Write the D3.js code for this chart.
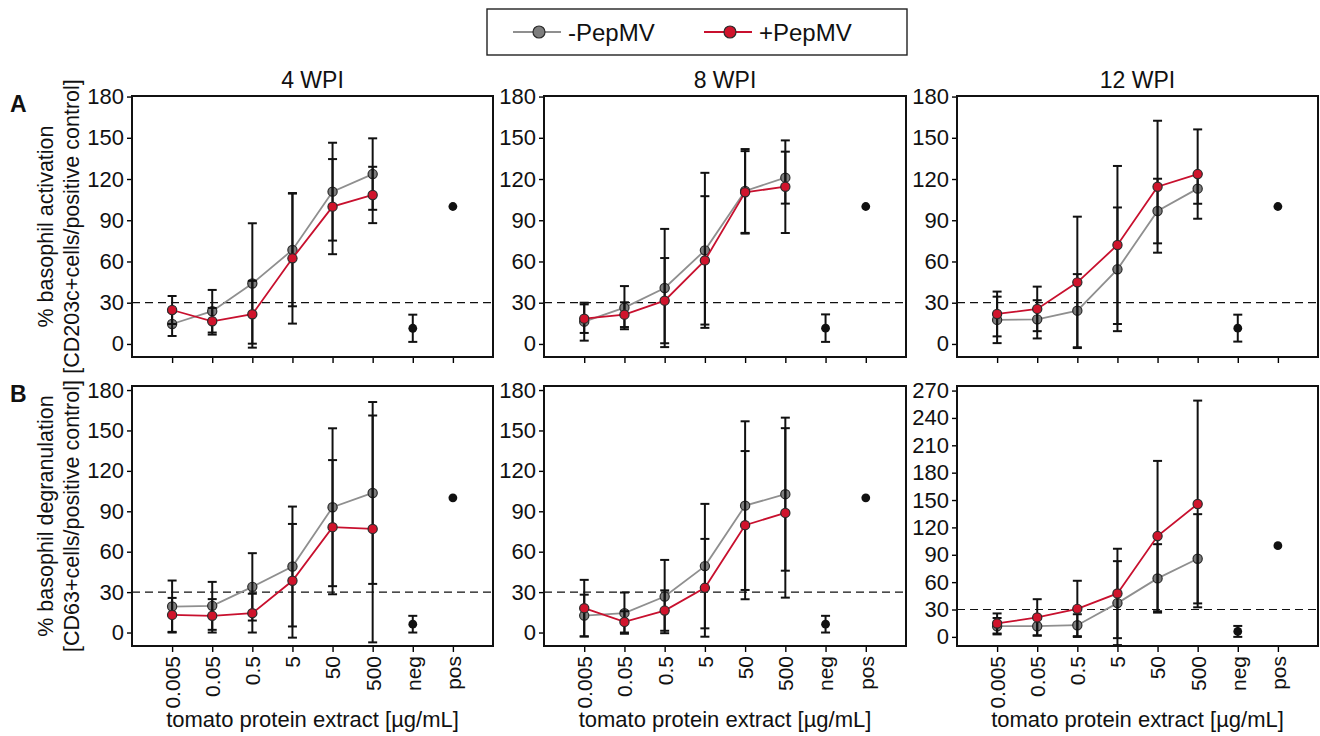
<!DOCTYPE html>
<html>
<head>
<meta charset="utf-8">
<script src="https://cdn.jsdelivr.net/npm/d3@7"></script>
<style>
  body { margin: 0; background: #fff; }
  svg { font-family: "Liberation Sans", Arial, sans-serif; }
</style>
</head>
<body>
<svg width="1320" height="736"></svg>
<script>
const categories = ["0.005", "0.05", "0.5", "5", "50", "500", "neg", "pos"];
const doses = categories.slice(0, 6);
const weeks = ["4 WPI", "8 WPI", "12 WPI"];

// row A: basophil activation, -PepMV / +PepMV, mean and sd
const a4Minus = [14.5, 23.8, 44.0, 68.4, 110.8, 123.6];
const a4MinusSd = [8.7, 15.5, 43.8, 41.0, 35.6, 26.0];
const a4Plus = [24.7, 16.5, 21.6, 62.3, 99.9, 108.4];
const a4PlusSd = [10.2, 9.7, 24.3, 47.5, 34.6, 20.5];
const a8Minus = [16.2, 26.4, 40.7, 68.1, 111.3, 121.0];
const a8MinusSd = [13.8, 15.7, 43.0, 56.4, 30.5, 18.9];
const a8Plus = [18.4, 21.3, 31.5, 60.8, 110.3, 114.4];
const a8PlusSd = [10.4, 9.0, 31.0, 46.7, 30.0, 33.7];
const a12Minus = [17.5, 17.9, 24.2, 54.3, 96.7, 113.0];
const a12MinusSd = [16.9, 13.9, 26.6, 45.0, 23.5, 11.0];
const a12Plus = [21.8, 25.5, 44.8, 72.0, 114.4, 123.6];
const a12PlusSd = [16.3, 16.2, 47.8, 57.5, 48.0, 32.5];

// row B: basophil degranulation
const b4Minus = [19.3, 19.8, 33.9, 49.0, 93.0, 103.6];
const b4MinusSd = [19.3, 17.8, 25.0, 44.5, 58.6, 67.5];
const b4Plus = [13.1, 12.4, 14.4, 38.4, 78.2, 76.9];
const b4PlusSd = [12.6, 12.4, 14.4, 42.2, 49.8, 84.2];
const b8Minus = [12.6, 14.4, 26.7, 49.3, 94.2, 102.7];
const b8MinusSd = [15.5, 15.3, 27.2, 46.2, 62.6, 56.8];
const b8Plus = [18.1, 7.9, 16.3, 33.2, 79.7, 88.8];
const b8PlusSd = [21.0, 7.9, 15.0, 36.3, 55.0, 62.9];
const b12Minus = [11.7, 11.7, 12.8, 37.0, 64.1, 85.6];
const b12MinusSd = [9.0, 10.0, 12.0, 46.0, 37.5, 48.9];
const b12Plus = [14.7, 21.3, 30.7, 47.6, 110.5, 145.7];
const b12PlusSd = [11.0, 20.0, 30.8, 49.0, 82.4, 113.3];

// controls per week
const negA = [11.4, 11.5, 11.5];
const negASd = [9.9, 10.0, 9.8];
const negB = [6.2, 6.2, 6.0];
const negBSd = [6.2, 6.2, 6.0];
const posValue = 100;
const threshold = 30;

const yTicksA = [0, 30, 60, 90, 120, 150, 180];
const yTicksB = [0, 30, 60, 90, 120, 150, 180];
const yTicksB12 = [0, 30, 60, 90, 120, 150, 180, 210, 240, 270];

const grayLine = "#8f8f8f", grayFill = "#7d7d7d";
const redLine = "#c8102e", redFill = "#d0142c";

const svg = d3.select("svg");

const cols = [[132, 493], [544, 906], [957, 1318]];
const rows = [
  { top: 96, bottom: 357, label: "A", line1: "% basophil activation", line2: "[CD203c+cells/positive control]" },
  { top: 386, bottom: 646, label: "B", line1: "% basophil degranulation", line2: "[CD63+cells/positive control]" }
];

const panels = [
  { row: 0, col: 0, minus: a4Minus, minusSd: a4MinusSd, plus: a4Plus, plusSd: a4PlusSd, neg: negA[0], negSd: negASd[0], domain: [-9.5, 180.4], ticks: yTicksA },
  { row: 0, col: 1, minus: a8Minus, minusSd: a8MinusSd, plus: a8Plus, plusSd: a8PlusSd, neg: negA[1], negSd: negASd[1], domain: [-9.5, 180.4], ticks: yTicksA },
  { row: 0, col: 2, minus: a12Minus, minusSd: a12MinusSd, plus: a12Plus, plusSd: a12PlusSd, neg: negA[2], negSd: negASd[2], domain: [-9.5, 180.4], ticks: yTicksA },
  { row: 1, col: 0, minus: b4Minus, minusSd: b4MinusSd, plus: b4Plus, plusSd: b4PlusSd, neg: negB[0], negSd: negBSd[0], domain: [-10, 183], ticks: yTicksB },
  { row: 1, col: 1, minus: b8Minus, minusSd: b8MinusSd, plus: b8Plus, plusSd: b8PlusSd, neg: negB[1], negSd: negBSd[1], domain: [-10, 183], ticks: yTicksB },
  { row: 1, col: 2, minus: b12Minus, minusSd: b12MinusSd, plus: b12Plus, plusSd: b12PlusSd, neg: negB[2], negSd: negBSd[2], domain: [-10, 275], ticks: yTicksB12 }
];

function errorBars(g, x, y, cats, means, sds) {
  const cap = 4.5;
  const eb = g.append("g").attr("stroke", "#111").attr("stroke-width", 2);
  cats.forEach((c, i) => {
    const cx = x(c), lo = y(means[i] - sds[i]), hi = y(means[i] + sds[i]);
    eb.append("line").attr("x1", cx).attr("x2", cx).attr("y1", lo).attr("y2", hi);
    eb.append("line").attr("x1", cx - cap).attr("x2", cx + cap).attr("y1", lo).attr("y2", lo);
    eb.append("line").attr("x1", cx - cap).attr("x2", cx + cap).attr("y1", hi).attr("y2", hi);
  });
}

function series(g, x, y, means, color) {
  g.append("path")
    .datum(means)
    .attr("fill", "none")
    .attr("stroke", color)
    .attr("stroke-width", 1.8)
    .attr("d", d3.line().x((d, i) => x(doses[i])).y(d => y(d)));
}

function markers(g, x, y, means, fill) {
  g.append("g").selectAll("circle").data(means).join("circle")
    .attr("cx", (d, i) => x(doses[i]))
    .attr("cy", d => y(d))
    .attr("r", 4.6)
    .attr("fill", fill)
    .attr("stroke", "#2a2a2a")
    .attr("stroke-width", 1.2);
}

panels.forEach(p => {
  const [x0, x1] = cols[p.col];
  const r = rows[p.row];
  const x = d3.scalePoint().domain(categories).range([x0, x1]).padding(1);
  const y = d3.scaleLinear().domain(p.domain).range([r.bottom, r.top]);
  const g = svg.append("g");

  // y axis
  const ya = g.append("g")
    .attr("transform", `translate(${x0},0)`)
    .call(d3.axisLeft(y).tickValues(p.ticks).tickSize(5).tickPadding(3));
  ya.select(".domain").remove();
  ya.selectAll("line").attr("stroke", "#000").attr("stroke-width", 1.4);
  ya.selectAll("text").attr("font-size", 22).attr("fill", "#111").attr("font-family", "Liberation Sans, Arial, sans-serif");

  // x axis
  const xa = g.append("g")
    .attr("transform", `translate(0,${r.bottom})`)
    .call(d3.axisBottom(x).tickSize(6).tickPadding(4));
  xa.select(".domain").remove();
  xa.selectAll("line").attr("stroke", "#000").attr("stroke-width", 1.4);
  if (p.row === 1) {
    xa.selectAll("text")
      .attr("font-size", 21)
      .attr("fill", "#111")
      .attr("font-family", "Liberation Sans, Arial, sans-serif")
      .attr("text-anchor", "end")
      .attr("dy", "0.35em")
      .attr("transform", "translate(0,10) rotate(-90)")
      .attr("x", 0).attr("y", 0);
    g.append("text")
      .attr("x", (x0 + x1) / 2).attr("y", 727)
      .attr("text-anchor", "middle").attr("font-size", 22).attr("fill", "#111")
      .text("tomato protein extract [µg/mL]");
  } else {
    xa.selectAll("text").remove();
    g.append("text")
      .attr("x", (x0 + x1) / 2).attr("y", 88)
      .attr("text-anchor", "middle").attr("font-size", 23).attr("fill", "#111")
      .text(weeks[p.col]);
  }

  // threshold
  g.append("line")
    .attr("x1", x0).attr("x2", x1)
    .attr("y1", y(threshold)).attr("y2", y(threshold))
    .attr("stroke", "#111").attr("stroke-width", 1.2).attr("stroke-dasharray", "8,5");

  // series
  series(g, x, y, p.minus, grayLine);
  markers(g, x, y, p.minus, grayFill);
  errorBars(g, x, y, doses, p.minus, p.minusSd);
  series(g, x, y, p.plus, redLine);
  errorBars(g, x, y, doses, p.plus, p.plusSd);
  markers(g, x, y, p.plus, redFill);

  // controls
  errorBars(g, x, y, ["neg"], [p.neg], [p.negSd]);
  g.append("circle").attr("cx", x("neg")).attr("cy", y(p.neg)).attr("r", 4.4).attr("fill", "#111");
  g.append("circle").attr("cx", x("pos")).attr("cy", y(posValue)).attr("r", 4.4).attr("fill", "#111");

  // frame
  g.append("rect")
    .attr("x", x0).attr("y", r.top)
    .attr("width", x1 - x0).attr("height", r.bottom - r.top)
    .attr("fill", "none").attr("stroke", "#111").attr("stroke-width", 2);
});

// row labels and y titles
rows.forEach(r => {
  const cy = (r.top + r.bottom) / 2;
  svg.append("text")
    .attr("x", 10).attr("y", r.top + 16)
    .attr("font-size", 23).attr("font-weight", "bold").attr("fill", "#111")
    .text(r.label);
  svg.append("text")
    .attr("transform", `translate(53,${cy}) rotate(-90)`)
    .attr("text-anchor", "middle").attr("font-size", 21.5).attr("fill", "#111")
    .text(r.line1);
  svg.append("text")
    .attr("transform", `translate(79,${cy}) rotate(-90)`)
    .attr("text-anchor", "middle").attr("font-size", 21.5).attr("fill", "#111")
    .text(r.line2);
});

// legend
const legend = svg.append("g");
legend.append("rect")
  .attr("x", 487).attr("y", 9).attr("width", 420).attr("height", 46)
  .attr("fill", "#fff").attr("stroke", "#222").attr("stroke-width", 1.4);
const legendItems = [
  { label: "-PepMV", line: grayLine, fill: grayFill, x: 513 },
  { label: "+PepMV", line: redLine, fill: redFill, x: 704 }
];
legendItems.forEach(it => {
  legend.append("line")
    .attr("x1", it.x).attr("x2", it.x + 48).attr("y1", 32).attr("y2", 32)
    .attr("stroke", it.line).attr("stroke-width", 1.8);
  legend.append("circle")
    .attr("cx", it.x + 26).attr("cy", 32).attr("r", 6)
    .attr("fill", it.fill).attr("stroke", "#2a2a2a").attr("stroke-width", 1.2);
  legend.append("text")
    .attr("x", it.x + 55).attr("y", 41)
    .attr("font-size", 24).attr("fill", "#111")
    .text(it.label);
});
</script>
</body>
</html>
